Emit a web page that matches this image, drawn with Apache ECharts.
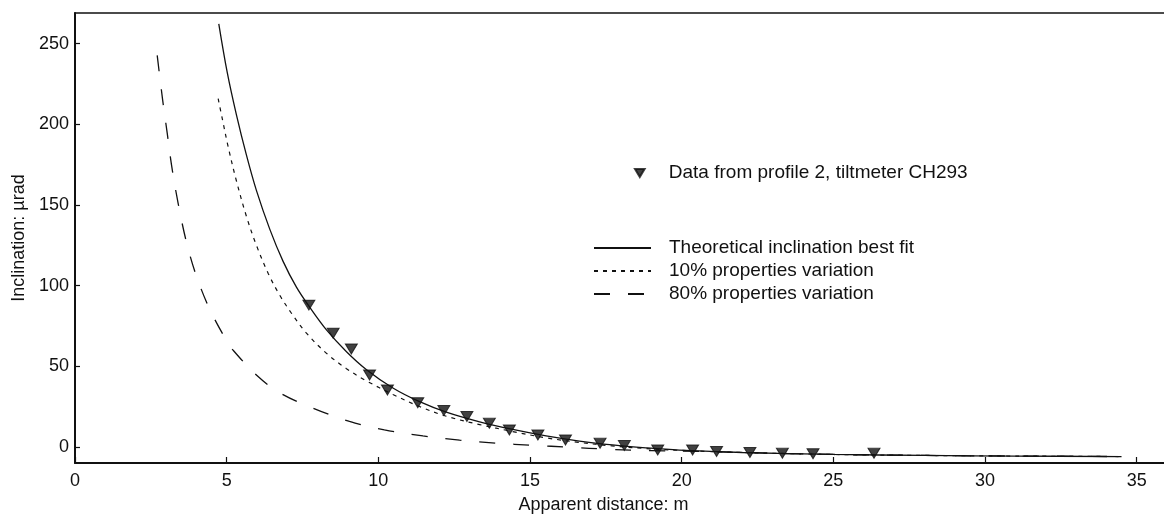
<!DOCTYPE html>
<html>
<head>
<meta charset="utf-8">
<script src="https://cdn.jsdelivr.net/npm/echarts@6/dist/echarts.min.js"></script>
<style>
  html, body { margin: 0; padding: 0; background: #fff; }
  #chart { width: 1164px; height: 519px; }
</style>
</head>
<body>
<div id="chart"></div>
<script>
// ---- Data ----
const dataName = 'Data from profile 2, tiltmeter CH293';
const fitName = 'Theoretical inclination best fit';
const var10Name = '10% properties variation';
const var80Name = '80% properties variation';

const dataX = [7.71, 8.51, 9.11, 9.71, 10.30, 11.30, 12.16, 12.92, 13.66, 14.32, 15.26, 16.17, 17.31, 18.11, 19.21, 20.36, 21.15, 22.25, 23.32, 24.33, 26.34];
const dataY = [87.9, 70.4, 60.7, 44.6, 35.3, 27.4, 22.5, 18.8, 14.7, 10.5, 7.4, 4.3, 2.3, 0.8, -1.9, -1.9, -2.9, -3.5, -3.9, -4.3, -3.9];

const fitX = [4.74, 5.02, 5.32, 5.65, 5.98, 6.42, 6.86, 7.30, 7.74, 8.29, 8.95, 9.6, 10.48, 11.36, 12.24, 13.34, 14.43, 15.53, 16.63, 17.72, 18.82, 19.92, 22, 25, 28, 31, 34.5];
const fitY = [262.3, 232, 206, 181, 159, 135, 115, 99, 86.5, 72.5, 59, 48, 36.5, 28, 21.5, 15.5, 10.8, 6.8, 3.6, 1.2, -0.6, -2, -3.5, -4.7, -5.3, -5.7, -6];

const var10X = [4.72, 4.86, 5.05, 5.32, 5.65, 5.98, 6.37, 6.75, 7.13, 7.63, 8.29, 8.95, 9.6, 10.48, 11.36, 12.24, 13.34, 14.43, 15.5, 16.6, 17.7, 18.8, 20, 22, 25, 28, 31, 34.5];
const var10Y = [215.9, 203, 186, 165, 143, 125, 107.5, 94, 83, 70.5, 58, 48.5, 41, 32.5, 25, 19, 13.8, 9.5, 5.7, 2.8, 0.6, -1, -2.2, -3.5, -4.7, -5.3, -5.7, -6];

const var80X = [2.71, 2.89, 3.04, 3.18, 3.40, 3.68, 4.01, 4.45, 4.99, 5.21, 5.98, 6.75, 7.85, 9.05, 10.2, 11.47, 12.68, 13.88, 15.09, 16.3, 17.6, 19, 20.5, 22, 25, 28, 31, 34.5];
const var80Y = [242.7, 215, 194.5, 175, 151, 126.5, 105.5, 85, 66, 60, 44.6, 33.5, 24, 15.8, 10.5, 6.8, 4.2, 2.3, 1, -0.2, -1.5, -2.3, -2.8, -3.5, -4.7, -5.3, -5.7, -6];

const xTickStep = 5;
const yLabelStep = 50;

// ---- Chart ----
const pair = (xs, ys) => xs.map((x, i) => [x, ys[i]]);
const downTri = 'path://M0,0 L12,0 L6,10 Z';
const ink = '#111111';
const font = '"Liberation Sans", Arial, Helvetica, sans-serif';

const chart = echarts.init(document.getElementById('chart'), null, { renderer: 'canvas' });
chart.setOption({
  animation: false,
  backgroundColor: '#fff',
  textStyle: { fontFamily: font, color: ink },
  grid: { left: 75, top: 13, right: 0, bottom: 56, show: false },
  xAxis: [
    {
      type: 'value', min: 0, max: 35.9, interval: xTickStep,
      name: 'Apparent distance: m', nameLocation: 'middle', nameGap: 33,
      nameTextStyle: { fontSize: 18, fontFamily: font, color: ink, padding: [0, 32, 0, 0] },
      axisLine: { show: true, onZero: false, lineStyle: { color: ink, width: 2 } },
      axisTick: { show: true, inside: true, length: 6, lineStyle: { color: ink, width: 1.2 } },
      axisLabel: { fontSize: 18, fontFamily: font, color: ink, margin: 9, showMaxLabel: false },
      splitLine: { show: false }
    },
    {
      type: 'value', position: 'top', min: 0, max: 35.9, interval: xTickStep,
      axisLine: { show: true, onZero: false, lineStyle: { color: ink, width: 1.6 } },
      axisTick: { show: false }, axisLabel: { show: false }, splitLine: { show: false }
    }
  ],
  yAxis: {
    type: 'value', min: -10, max: 269, splitNumber: 5,
    name: 'Inclination: µrad', nameLocation: 'middle', nameGap: 45,
    nameTextStyle: { fontSize: 18, fontFamily: font, color: ink },
    axisLine: { show: true, onZero: false, lineStyle: { color: ink, width: 2 } },
    axisTick: { show: true, inside: true, length: 5, lineStyle: { color: ink, width: 1.2 } },
    axisLabel: {
      fontSize: 18, fontFamily: font, color: ink, margin: 6,
      showMinLabel: false, showMaxLabel: false,
      formatter: v => (v % yLabelStep === 0 ? String(v) : '')
    },
    splitLine: { show: false }
  },
  legend: [
    {
      data: [{ name: dataName, icon: downTri }],
      left: 634, top: 163, padding: 0,
      itemWidth: 10, itemHeight: 8,
      itemStyle: { color: ink },
      textStyle: { fontSize: 19, fontFamily: font, color: ink, lineHeight: 20, padding: [0, 0, 0, 19] },
      selectedMode: false
    },
    {
      data: [fitName, var10Name, var80Name],
      orient: 'vertical', left: 593, top: 238, padding: 0,
      itemWidth: 57, itemHeight: 14, itemGap: 3,
      itemStyle: { opacity: 0 },
      textStyle: { fontSize: 19, fontFamily: font, color: ink, lineHeight: 20, padding: [0, 0, 0, 13] },
      selectedMode: false
    }
  ],
  series: [
    {
      name: fitName, type: 'line', data: pair(fitX, fitY),
      symbol: 'none', smooth: 0.35,
      lineStyle: { color: ink, width: 1.3, type: 'solid' },
      itemStyle: { color: ink }, z: 2
    },
    {
      name: var10Name, type: 'line', data: pair(var10X, var10Y),
      symbol: 'none', smooth: 0.35,
      lineStyle: { color: ink, width: 1.2, type: [4, 5] },
      itemStyle: { color: ink }, z: 2
    },
    {
      name: var80Name, type: 'line', data: pair(var80X, var80Y),
      symbol: 'none', smooth: 0.35,
      lineStyle: { color: ink, width: 1.3, type: [16, 18] },
      itemStyle: { color: ink }, z: 2
    },
    {
      name: dataName, type: 'scatter', data: pair(dataX, dataY),
      symbol: downTri, symbolSize: [12, 10],
      itemStyle: { color: ink, borderColor: ink, borderWidth: 1 }, z: 3
    }
  ]
});
</script>
</body>
</html>
